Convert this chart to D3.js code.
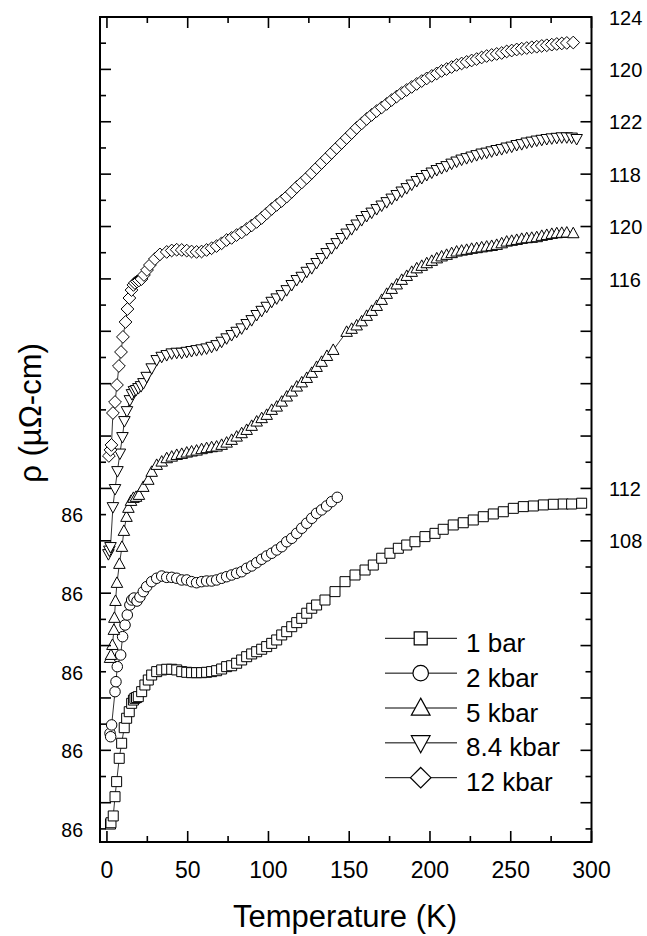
<!DOCTYPE html>
<html><head><meta charset="utf-8">
<script src="https://cdn.jsdelivr.net/npm/d3@7"></script>
<style>
body{margin:0;background:#fff}
svg{display:block}
text{font-family:"Liberation Sans",Arial,Helvetica,sans-serif;fill:#000}
</style>
</head><body>
<svg id="chart" width="647" height="936"></svg>
<script>
// ---------- data (T in K, rho in plotted units) ----------
const seriesNames = ["1 bar", "2 kbar", "5 kbar", "8.4 kbar", "12 kbar"];
const seriesSymbols = ["square", "circle", "triangleUp", "triangleDown", "diamond"];

const bar1 = [[2.2,86.37],[2.5,86.47],[3.9,86.99],[5.0,88.46],[6.0,89.61],[7.6,91.39],[9.1,92.54],[10.7,93.73],[12.2,94.45],[13.8,94.95],[15.3,95.59],[16.4,95.84],[17.3,95.97],[18.3,96.03],[19.4,96.10],[21.5,96.48],[23.5,96.99],[25.6,97.37],[27.7,97.75],[30.8,98.01],[33.9,98.14],[37.0,98.19],[40.1,98.19],[43.2,98.14],[46.3,98.01],[49.4,97.96],[52.4,97.93],[55.5,97.93],[58.6,97.93],[61.7,97.96],[64.8,98.01],[67.9,98.08],[71.0,98.21],[74.1,98.39],[77.2,98.46],[80.3,98.65],[83.4,98.90],[86.5,99.15],[89.6,99.36],[92.7,99.53],[95.8,99.72],[98.9,99.92],[102.0,100.17],[105.1,100.43],[108.2,100.81],[111.3,101.06],[114.4,101.44],[117.5,101.75],[120.6,102.08],[123.7,102.47],[126.8,102.85],[129.8,103.10],[135.0,103.48],[141.2,104.12],[147.4,104.88],[153.6,105.39],[159.8,105.77],[164.9,106.15],[170.1,106.67],[175.2,107.05],[180.4,107.43],[185.6,107.68],[190.7,107.93],[196.9,108.32],[203.1,108.57],[208.2,108.88],[214.4,109.21],[220.6,109.38],[226.8,109.59],[233.0,109.84],[239.2,110.05],[245.4,110.22],[251.6,110.48],[257.8,110.61],[264.0,110.66],[270.2,110.74],[276.4,110.79],[282.5,110.81],[287.7,110.81],[293.9,110.87]];

const kbar2 = [[1.9,93.30],[2.3,93.04],[2.9,93.94],[5.0,96.48],[5.6,97.24],[6.4,98.39],[8.5,99.28],[9.7,100.68],[11.2,101.57],[12.6,102.34],[14.2,103.10],[15.3,103.48],[16.7,103.63],[18.6,103.40],[20.4,103.71],[22.5,104.12],[24.6,104.50],[27.7,104.88],[30.8,105.14],[33.9,105.31],[37.0,105.21],[40.1,105.21],[43.2,105.14],[46.3,105.01],[49.4,105.01],[52.4,104.88],[55.5,104.80],[58.6,104.88],[61.7,104.93],[64.8,104.93],[67.9,105.01],[71.0,105.14],[74.1,105.26],[77.2,105.39],[80.3,105.52],[83.4,105.64],[86.5,105.90],[89.6,106.08],[92.7,106.33],[95.8,106.59],[98.9,106.84],[102.0,107.05],[105.1,107.30],[108.2,107.55],[111.3,107.93],[114.4,108.19],[117.5,108.57],[120.6,108.96],[123.7,109.34],[126.8,109.72],[129.8,110.10],[132.9,110.36],[136.0,110.66],[139.1,110.99],[142.6,111.32]];

const kbar5 = [[1.9,99.05],[2.5,99.28],[3.4,100.04],[4.3,101.19],[4.6,102.11],[5.3,103.40],[6.2,104.78],[7.7,106.23],[9.3,107.53],[10.5,108.75],[12.1,109.82],[13.3,110.51],[14.9,111.04],[16.4,111.27],[18.0,111.35],[19.8,111.50],[22.5,112.11],[25.6,112.65],[27.7,113.26],[30.8,113.79],[33.9,114.04],[37.0,114.30],[40.1,114.42],[43.2,114.55],[46.3,114.63],[49.4,114.73],[52.4,114.81],[55.5,114.88],[58.6,114.99],[61.7,115.07],[64.8,115.14],[67.9,115.19],[71.0,115.32],[74.1,115.49],[77.2,115.70],[80.3,115.95],[83.4,116.21],[86.5,116.46],[89.6,116.77],[92.7,117.10],[95.8,117.36],[98.9,117.61],[102.0,117.99],[105.1,118.24],[108.2,118.62],[111.3,119.01],[114.4,119.39],[117.5,119.77],[120.6,120.09],[123.7,120.43],[126.8,120.82],[129.8,121.27],[132.9,121.66],[136.2,122.11],[140.1,122.57],[148.4,123.95],[151.5,124.18],[154.6,124.44],[157.7,124.75],[160.8,125.17],[163.9,125.55],[167.0,125.93],[170.1,126.39],[173.2,126.85],[176.3,127.23],[179.4,127.57],[182.5,127.92],[185.6,128.22],[188.7,128.53],[191.8,128.80],[194.9,128.99],[198.0,129.19],[201.1,129.37],[204.2,129.56],[207.2,129.71],[210.3,129.83],[213.4,129.96],[216.5,130.08],[219.6,130.15],[222.7,130.21],[225.8,130.29],[228.9,130.34],[232.0,130.40],[235.1,130.46],[238.2,130.51],[241.3,130.59],[244.4,130.71],[247.5,130.84],[250.6,130.90],[253.7,130.97],[256.8,131.05],[259.9,131.10],[263.0,131.13],[266.1,131.18],[269.2,131.28],[272.3,131.35],[275.4,131.43],[278.5,131.48],[281.6,131.51],[284.7,131.53],[288.7,131.48]];

const kbar84 = [[0.9,106.99],[1.5,107.26],[2.2,107.53],[3.7,110.58],[5.0,111.96],[6.5,113.33],[8.0,114.67],[9.6,115.93],[10.8,117.15],[12.4,117.91],[14.2,118.75],[15.5,119.21],[16.7,119.44],[18.0,119.52],[19.5,119.67],[21.1,119.82],[22.6,120.05],[24.6,120.53],[27.7,121.18],[30.8,121.81],[33.9,122.06],[37.0,122.19],[40.1,122.32],[43.2,122.37],[46.3,122.37],[49.4,122.44],[52.4,122.50],[55.5,122.57],[58.6,122.63],[61.7,122.70],[64.8,122.82],[67.9,122.95],[71.0,123.21],[74.1,123.47],[77.2,123.72],[80.3,123.97],[83.4,124.23],[86.5,124.56],[89.6,124.86],[92.7,125.25],[95.8,125.57],[98.9,125.88],[102.0,126.26],[105.1,126.52],[108.2,126.77],[111.3,127.15],[114.4,127.54],[117.5,127.92],[120.6,128.17],[123.7,128.55],[126.8,128.83],[129.8,129.22],[132.9,129.60],[136.0,129.98],[139.1,130.36],[142.2,130.74],[145.3,131.13],[148.4,131.47],[151.5,131.81],[154.6,132.16],[157.7,132.50],[160.8,132.81],[163.9,133.07],[167.0,133.34],[170.1,133.61],[173.2,133.87],[176.3,134.14],[179.4,134.41],[182.5,134.68],[185.6,134.94],[188.7,135.21],[191.8,135.48],[194.9,135.71],[198.0,135.94],[201.1,136.13],[204.2,136.32],[207.2,136.47],[210.3,136.62],[213.4,136.81],[216.5,136.97],[219.6,137.12],[222.7,137.23],[225.8,137.35],[228.9,137.46],[232.0,137.58],[235.1,137.65],[238.2,137.75],[241.3,137.85],[244.4,137.92],[247.5,138.04],[250.6,138.11],[253.7,138.23],[256.8,138.30],[259.9,138.42],[263.0,138.49],[266.1,138.57],[269.2,138.63],[272.3,138.69],[275.4,138.74],[278.5,138.78],[281.6,138.82],[284.7,138.82],[287.7,138.80],[290.8,138.69]];

const kbar12 = [[1.2,114.48],[2.2,114.94],[2.8,115.32],[3.7,117.76],[5.0,118.60],[6.2,119.90],[7.4,121.35],[8.7,122.42],[9.9,123.57],[11.5,124.71],[12.7,125.70],[13.9,126.54],[15.2,127.15],[16.4,127.54],[17.3,127.69],[18.6,127.80],[19.8,127.88],[21.4,127.99],[22.9,128.30],[24.8,128.68],[26.6,129.06],[29.7,129.52],[32.8,129.87],[37.0,130.06],[40.1,130.17],[43.2,130.23],[46.3,130.21],[49.4,130.16],[52.4,130.09],[55.5,130.06],[58.6,130.09],[61.7,130.21],[64.8,130.34],[67.9,130.51],[71.0,130.72],[74.1,130.97],[77.2,131.13],[80.3,131.35],[83.4,131.55],[86.5,131.81],[89.6,132.08],[92.7,132.35],[95.8,132.65],[98.9,133.00],[102.0,133.34],[105.1,133.65],[108.2,133.95],[111.3,134.28],[114.4,134.64],[117.5,135.02],[120.6,135.36],[123.7,135.71],[126.8,136.09],[129.8,136.47],[132.9,136.85],[136.0,137.23],[139.1,137.62],[142.2,138.00],[145.3,138.38],[148.4,138.76],[151.5,139.14],[154.6,139.53],[157.7,139.87],[160.8,140.21],[163.9,140.52],[167.0,140.82],[170.1,141.09],[173.2,141.36],[176.3,141.66],[179.4,141.93],[182.5,142.20],[185.6,142.43],[188.7,142.66],[191.8,142.89],[194.9,143.11],[198.0,143.31],[201.1,143.50],[204.2,143.69],[207.2,143.88],[210.3,144.03],[213.4,144.18],[216.5,144.34],[219.6,144.45],[222.7,144.57],[225.8,144.68],[228.9,144.79],[232.0,144.91],[235.1,145.02],[238.2,145.10],[241.3,145.18],[244.4,145.25],[247.5,145.37],[250.6,145.44],[253.7,145.52],[256.8,145.58],[259.9,145.63],[263.0,145.69],[266.1,145.73],[269.2,145.79],[272.3,145.84],[275.4,145.89],[278.5,145.94],[281.6,145.98],[284.7,146.02],[288.7,146.05]];

const seriesData = [bar1, kbar2, kbar5, kbar84, kbar12];

// ---------- ticks / labels ----------
const xMajorTicks = [0, 50, 100, 150, 200, 250, 300];
const xMinorTicks = [25, 75, 125, 175, 225, 275];
const yMajorTicks = [88, 92, 96, 100, 104, 108, 112, 116, 120, 124, 128, 132, 136, 140, 144, 148];
const yMinorTicks = [86, 90, 94, 98, 102, 106, 110, 114, 118, 122, 126, 130, 134, 138, 142, 146];
const leftLabelValues = [86, 92, 98, 104, 110];
const leftLabelTexts = ["86", "86", "86", "86", "86"];
const rightLabelValues = [148, 144, 140, 136, 132, 128, 112, 108];
const rightLabelTexts = ["124", "120", "122", "118", "120", "116", "112", "108"];
const xTitle = "Temperature (K)";
const yTitle = "\u03C1 (\u00B5\u03A9-cm)";

// ---------- layout ----------
const L = 100, R = 591.5, T = 17, B = 842;
const x = d3.scaleLinear().domain([-4.3, 300]).range([L, R]);
const y = d3.scaleLinear().domain([85, 148]).range([B, T]);

const svg = d3.select("#chart");

function symPath(type, s) {
  if (type === "square") { const h = s / 2; return `M${-h},${-h}H${h}V${h}H${-h}Z`; }
  if (type === "circle") { const r = s / 2; return `M${r},0A${r},${r} 0 1,1 ${-r},0A${r},${r} 0 1,1 ${r},0Z`; }
  if (type === "triangleUp") { const w = s * 1.1 / 2, h = s; return `M0,${-h * 0.58}L${w},${h * 0.42}L${-w},${h * 0.42}Z`; }
  if (type === "triangleDown") { const w = s * 1.1 / 2, h = s; return `M0,${h * 0.58}L${w},${-h * 0.42}L${-w},${-h * 0.42}Z`; }
  if (type === "diamond") { const d = s * 0.62; return `M0,${-d}L${d},0L0,${d}L${-d},0Z`; }
}
const dataSize = {square: 10, circle: 10.5, triangleUp: 10.5, triangleDown: 10.5, diamond: 10.3};
const legendSize = {square: 13, circle: 15.5, triangleUp: 17, triangleDown: 17, diamond: 16.5};

// ---------- series ----------
const line = d3.line().x(d => x(d[0])).y(d => y(d[1]));
const plot = svg.append("g");
seriesData.forEach((data, i) => {
  const g = plot.append("g");
  g.append("path").attr("d", line(data)).attr("fill", "none").attr("stroke", "#000").attr("stroke-width", 0.8);
  g.selectAll("path.m").data(data).join("path").attr("class", "m")
    .attr("transform", d => `translate(${x(d[0])},${y(d[1])})`)
    .attr("d", symPath(seriesSymbols[i], dataSize[seriesSymbols[i]]))
    .attr("fill", "#fff").attr("stroke", "#000").attr("stroke-width", 1);
});

// ---------- frame & ticks ----------
const tk = svg.append("g").attr("stroke", "#000").attr("stroke-width", 1.6);
function hTicks(vals, len) {
  vals.forEach(v => {
    tk.append("line").attr("x1", x(v)).attr("x2", x(v)).attr("y1", B).attr("y2", B - len);
    tk.append("line").attr("x1", x(v)).attr("x2", x(v)).attr("y1", T).attr("y2", T + len);
  });
}
function vTicks(vals, len) {
  vals.forEach(v => {
    tk.append("line").attr("y1", y(v)).attr("y2", y(v)).attr("x1", L).attr("x2", L + len);
    tk.append("line").attr("y1", y(v)).attr("y2", y(v)).attr("x1", R).attr("x2", R - len);
  });
}
hTicks(xMajorTicks, 11); hTicks(xMinorTicks, 6);
vTicks(yMajorTicks, 11); vTicks(yMinorTicks, 6);
svg.append("rect").attr("x", L).attr("y", T).attr("width", R - L).attr("height", B - T)
  .attr("fill", "none").attr("stroke", "#000").attr("stroke-width", 2);

// ---------- tick labels ----------
svg.append("g").selectAll("text").data(xMajorTicks).join("text")
  .attr("x", d => x(d)).attr("y", 878).attr("text-anchor", "middle")
  .attr("font-size", 23).text(d => d);
svg.append("g").selectAll("text").data(leftLabelValues).join("text")
  .attr("x", 83).attr("y", d => y(d)).attr("dy", "0.4em").attr("text-anchor", "end")
  .attr("font-size", 19.5).text((d, i) => leftLabelTexts[i]);
svg.append("g").selectAll("text").data(rightLabelValues).join("text")
  .attr("x", 609).attr("y", d => y(d)).attr("dy", "0.38em").attr("text-anchor", "start")
  .attr("font-size", 20).text((d, i) => rightLabelTexts[i]);

// ---------- titles ----------
svg.append("text").attr("x", 345).attr("y", 927).attr("text-anchor", "middle")
  .attr("font-size", 31).text(xTitle);
svg.append("text").attr("transform", "translate(41,413) rotate(-90)").attr("text-anchor", "middle")
  .attr("font-size", 31).text(yTitle);

// ---------- legend ----------
const lg = svg.append("g");
seriesNames.forEach((name, i) => {
  const ly = 638.3 + i * 34.85;
  lg.append("line").attr("x1", 385).attr("x2", 457).attr("y1", ly).attr("y2", ly)
    .attr("stroke", "#000").attr("stroke-width", 1);
  lg.append("path").attr("transform", `translate(420.7,${ly})`)
    .attr("d", symPath(seriesSymbols[i], legendSize[seriesSymbols[i]]))
    .attr("fill", "#fff").attr("stroke", "#000").attr("stroke-width", 1.2);
  lg.append("text").attr("x", 466).attr("y", ly + 13.5).attr("font-size", 26).text(name);
});
</script>
</body></html>
